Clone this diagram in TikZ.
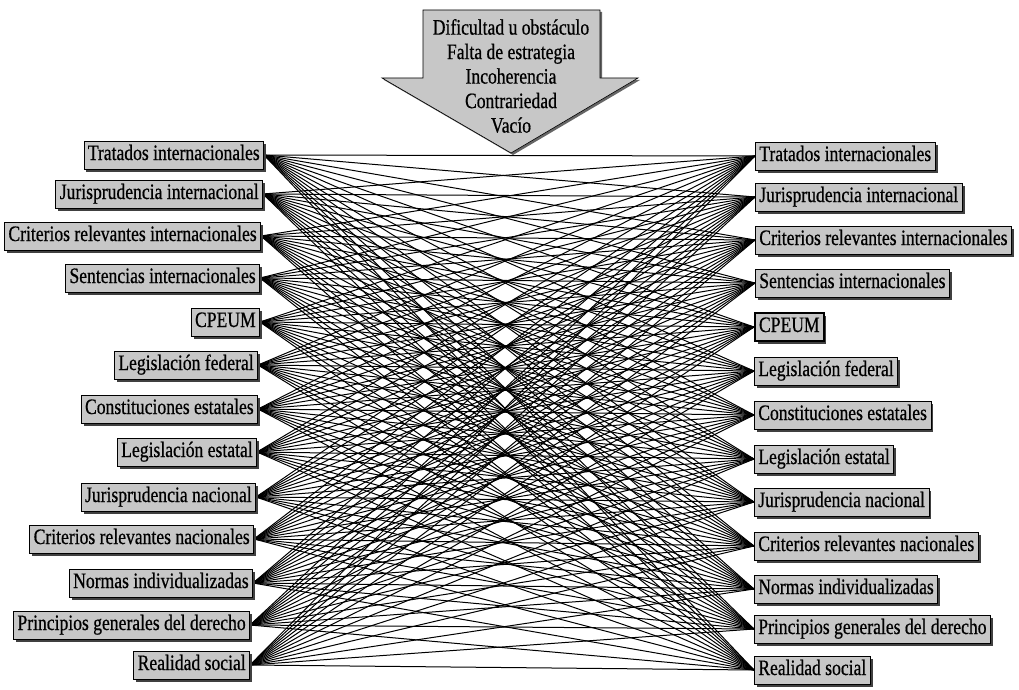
\documentclass[tikz,border=0pt]{standalone}
\usepackage{fontspec}
\setmainfont[FakeStretch=0.8,FakeBold=0.6]{Liberation Serif}
\usepackage{tikz}
\usetikzlibrary{shadows,backgrounds}

\tikzset{
  caja/.style={draw=black, line width=0.6pt, fill=black!22,
    font=\fontsize{22}{24.5}\selectfont, text height=15pt, text depth=5pt,
    inner xsep=4pt, inner ysep=4pt,
    drop shadow={shadow xshift=2.5pt, shadow yshift=-2.5pt, fill=black!75, opacity=1}},
  enlace/.style={line width=1pt}
}

\begin{document}
\begin{tikzpicture}[x=1pt,y=-1pt]
\useasboundingbox (0,0) rectangle (1019,690);

%Shape: Arrow
\draw [fill=black!22, line width=0.6pt, drop shadow={shadow xshift=2pt, shadow yshift=-2pt, fill=black!60, opacity=1}] (423,10) -- (600,10) -- (600,78) -- (638,78) -- (511,153) -- (382,78) -- (423,78) -- cycle ;
% Text Node
\node (obstaculos) at (511,76) [align=center, inner sep=0pt, font=\fontsize{22}{24.5}\selectfont] {Dificultad u obstáculo\\Falta de estrategia\\Incoherencia\\Contrariedad\\Vacío};

% Left column
\node [caja, anchor=east] (izq1) at (264,155) {Tratados internacionales};
\node [caja, anchor=east] (izq2) at (263,194) {Jurisprudencia internacional};
\node [caja, anchor=east] (izq3) at (261,236) {Criterios relevantes internacionales};
\node [caja, anchor=east] (izq4) at (260,278) {Sentencias internacionales};
\node [caja, anchor=east] (izq5) at (260,322) {CPEUM};
\node [caja, anchor=east] (izq6) at (258,365) {Legislación federal};
\node [caja, anchor=east] (izq7) at (258,409) {Constituciones estatales};
\node [caja, anchor=east] (izq8) at (257,452) {Legislación estatal};
\node [caja, anchor=east] (izq9) at (256,497) {Jurisprudencia nacional};
\node [caja, anchor=east] (izq10) at (254,539) {Criterios relevantes nacionales};
\node [caja, anchor=east] (izq11) at (253,583) {Normas individualizadas};
\node [caja, anchor=east] (izq12) at (250,625) {Principios generales del derecho};
\node [caja, anchor=east] (izq13) at (250,665) {Realidad social};

% Right column
\node [caja, anchor=west] (der1) at (755,156) {Tratados internacionales};
\node [caja, anchor=west] (der2) at (755,197) {Jurisprudencia internacional};
\node [caja, anchor=west] (der3) at (755,240) {Criterios relevantes internacionales};
\node [caja, anchor=west] (der4) at (755,283) {Sentencias internacionales};
\node [caja, anchor=west, line width=2pt] (der5) at (754,327) {CPEUM};
\node [caja, anchor=west] (der6) at (754,371) {Legislación federal};
\node [caja, anchor=west] (der7) at (754,415) {Constituciones estatales};
\node [caja, anchor=west] (der8) at (754,459) {Legislación estatal};
\node [caja, anchor=west] (der9) at (754,502) {Jurisprudencia nacional};
\node [caja, anchor=west] (der10) at (754,546) {Criterios relevantes nacionales};
\node [caja, anchor=west] (der11) at (754,589) {Normas individualizadas};
\node [caja, anchor=west] (der12) at (754,629) {Principios generales del derecho};
\node [caja, anchor=west] (der13) at (754,670) {Realidad social};

% every left box to every right box
\begin{scope}[on background layer]
  \foreach \i in {1,...,13}
    \foreach \j in {1,...,13}
      \draw [enlace] (izq\i.east) -- (der\j.west);
\end{scope}
\end{tikzpicture}
\end{document}
